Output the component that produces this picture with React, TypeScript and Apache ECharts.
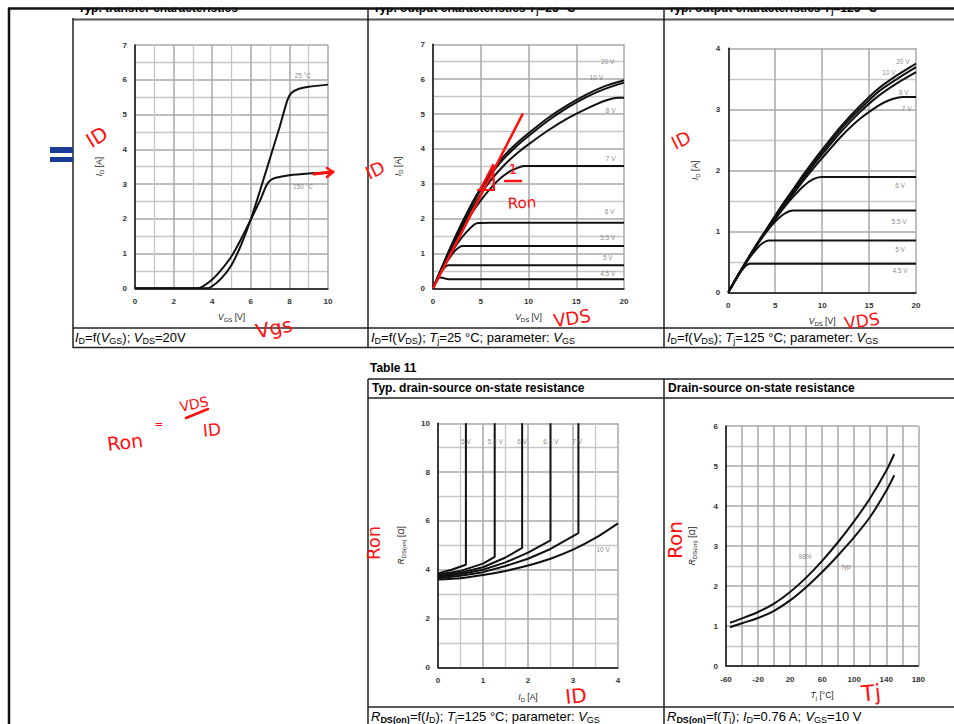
import React, { useEffect, useRef } from 'react';
import * as echarts from 'echarts';

const FONT = '"Liberation Sans", Arial, Helvetica, sans-serif';
const RED = '#ff1010';

// ---------- Chart 1: transfer characteristics ----------
const tfVgs150 = [0, 3.2, 3.5, 4, 4.5, 5, 5.5, 6, 6.5, 6.8, 7, 7.3, 8, 9, 10];
const tfId150 = [0, 0, 0.05, 0.25, 0.55, 0.92, 1.42, 1.98, 2.55, 2.95, 3.1, 3.18, 3.25, 3.3, 3.33];
const tfVgs25 = [0, 3.7, 4, 4.5, 5, 5.5, 6, 6.5, 7, 7.5, 7.9, 8.1, 8.5, 9, 10];
const tfId25 = [0, 0, 0.06, 0.3, 0.67, 1.25, 1.98, 2.85, 3.75, 4.65, 5.42, 5.62, 5.74, 5.8, 5.86];
const tfLabelText = ['25 °C', '150 °C'];
const tfLabelX = [8.7, 8.7];
const tfLabelY = [6.13, 2.94];

// ---------- Chart 2: output characteristics Tj = 25 °C ----------
const o25Vds = [0, 1, 2, 3, 4, 5, 6, 7, 8, 9, 10, 12, 14, 16, 18, 20];
const o25Id20 = [0, 0.65, 1.28, 1.86, 2.4, 2.88, 3.3, 3.66, 3.96, 4.22, 4.45, 4.88, 5.24, 5.55, 5.8, 5.97];
const o25Id10 = [0, 0.64, 1.26, 1.83, 2.36, 2.83, 3.24, 3.59, 3.88, 4.14, 4.37, 4.8, 5.17, 5.48, 5.72, 5.9];
const o25Vds8 = [0, 1, 2, 3, 4, 5, 6, 7, 8, 9, 10, 12, 14, 16, 18, 19.4, 20];
const o25Id8 = [0, 0.62, 1.22, 1.76, 2.26, 2.7, 3.08, 3.4, 3.68, 3.92, 4.13, 4.52, 4.86, 5.14, 5.38, 5.47, 5.47];
const o25Vds7 = [0, 1, 2, 3, 4, 5, 6, 7, 8, 9, 9.6, 11, 20];
const o25Id7 = [0, 0.6, 1.17, 1.68, 2.13, 2.52, 2.86, 3.14, 3.35, 3.47, 3.51, 3.51, 3.51];
const o25Vds6 = [0, 1, 2, 3, 4, 4.7, 6, 20];
const o25Id6 = [0, 0.56, 1.05, 1.45, 1.75, 1.87, 1.88, 1.88];
const o25Vds55 = [0, 1, 2, 2.6, 3.1, 4.5, 20];
const o25Id55 = [0, 0.55, 0.98, 1.15, 1.21, 1.21, 1.21];
const o25Vds5 = [0, 0.5, 1, 1.3, 1.6, 2.6, 20];
const o25Id5 = [0, 0.3, 0.52, 0.62, 0.66, 0.66, 0.66];
const o25Vds45 = [0, 0.4, 0.7, 1.0, 1.6, 2.6, 20];
const o25Id45 = [0, 0.22, 0.31, 0.3, 0.26, 0.26, 0.26];
const o25LabelText = ['20 V', '10 V', '8 V', '7 V', '6 V', '5.5 V', '5 V', '4.5 V'];
const o25LabelX = [18.3, 17.1, 18.6, 18.6, 18.5, 18.3, 18.3, 18.3];
const o25LabelY = [6.51, 6.05, 5.11, 3.73, 2.19, 1.47, 0.87, 0.42];
// hand-drawn tangent on chart 2
const tangentVds = [0, 9.42];
const tangentId = [0, 5.02];

// ---------- Chart 3: output characteristics Tj = 125 °C ----------
const o125Vds = [0, 1, 2, 3, 4, 5, 6, 7, 8, 9, 10, 12, 14, 16, 18, 20];
const o125Id20 = [0, 0.27, 0.53, 0.78, 1.02, 1.26, 1.49, 1.71, 1.93, 2.14, 2.34, 2.72, 3.05, 3.34, 3.56, 3.75];
const o125Id10 = [0, 0.27, 0.53, 0.78, 1.01, 1.24, 1.47, 1.69, 1.9, 2.1, 2.3, 2.68, 3.0, 3.29, 3.5, 3.69];
const o125Id8 = [0, 0.27, 0.52, 0.77, 1.0, 1.23, 1.45, 1.66, 1.87, 2.07, 2.26, 2.63, 2.95, 3.22, 3.43, 3.61];
const o125Vds7 = [0, 1, 2, 3, 4, 5, 6, 7, 8, 9, 10, 12, 14, 16, 17, 18, 18.7, 20];
const o125Id7 = [0, 0.27, 0.52, 0.77, 1.0, 1.22, 1.43, 1.63, 1.83, 2.02, 2.2, 2.55, 2.84, 3.06, 3.14, 3.19, 3.2, 3.2];
const o125Vds6 = [0, 1, 2, 3, 4, 5, 6, 7, 8, 9, 9.9, 11.5, 20];
const o125Id6 = [0, 0.27, 0.52, 0.77, 0.99, 1.2, 1.4, 1.58, 1.74, 1.85, 1.89, 1.89, 1.89];
const o125Vds55 = [0, 1, 2, 3, 4, 5, 6, 6.9, 8.5, 20];
const o125Id55 = [0, 0.27, 0.52, 0.76, 0.98, 1.16, 1.29, 1.34, 1.34, 1.34];
const o125Vds5 = [0, 1, 2, 3, 3.6, 4.3, 5.5, 20];
const o125Id5 = [0, 0.26, 0.51, 0.71, 0.8, 0.85, 0.85, 0.85];
const o125Vds45 = [0, 1, 1.5, 1.9, 2.3, 3.5, 20];
const o125Id45 = [0, 0.26, 0.37, 0.44, 0.47, 0.47, 0.47];
const o125LabelText = ['20 V', '10 V', '8 V', '7 V', '6 V', '5.5 V', '5 V', '4.5 V'];
const o125LabelX = [18.6, 17.1, 18.7, 19.0, 18.3, 18.2, 18.3, 18.3];
const o125LabelY = [3.79, 3.61, 3.28, 3.02, 1.75, 1.16, 0.7, 0.36];

// ---------- Chart 4: Rds(on) vs ID ----------
const rdId5 = [0, 0.3, 0.62, 0.62];
const rdR5 = [3.85, 4.0, 4.2, 10];
const rdId55 = [0, 0.5, 1.0, 1.26, 1.26];
const rdR55 = [3.8, 3.95, 4.25, 4.53, 10];
const rdId6 = [0, 0.5, 1, 1.5, 1.87, 1.87];
const rdR6 = [3.75, 3.88, 4.1, 4.5, 4.89, 10];
const rdId65 = [0, 0.5, 1, 1.5, 2, 2.5, 2.5];
const rdR65 = [3.7, 3.82, 4.0, 4.3, 4.7, 5.2, 10];
const rdId7 = [0, 0.5, 1, 1.5, 2, 2.5, 3.12, 3.12];
const rdR7 = [3.65, 3.75, 3.9, 4.15, 4.45, 4.85, 5.5, 10];
const rdId10 = [0, 0.5, 1, 1.5, 2, 2.5, 3, 3.5, 4];
const rdR10 = [3.6, 3.65, 3.78, 3.95, 4.17, 4.45, 4.82, 5.3, 5.9];
const rdLabelText = ['5 V', '5.5 V', '6 V', '6.5 V', '7 V', '10 V'];
const rdLabelX = [0.62, 1.27, 1.87, 2.51, 3.09, 3.67];
const rdLabelY = [9.26, 9.26, 9.26, 9.26, 9.26, 4.84];

// ---------- Chart 5: Rds(on) vs Tj ----------
const tjC = [-55, -40, -20, 0, 20, 40, 60, 80, 100, 120, 140, 150];
const r98 = [1.08, 1.19, 1.35, 1.56, 1.85, 2.21, 2.63, 3.1, 3.62, 4.2, 4.88, 5.3];
const rTyp = [0.97, 1.07, 1.2, 1.38, 1.64, 1.97, 2.35, 2.77, 3.22, 3.73, 4.38, 4.77];
const tjLabelText = ['98%', 'typ'];
const tjLabelX = [38.75, 90];
const tjLabelY = [2.75, 2.5];

// ---------- helpers ----------
const zip = (xs: number[], ys: number[]) => xs.map((x, i) => [x, ys[i]]);

const nameRich = {
  i: { fontFamily: FONT, fontStyle: 'italic', fontSize: 8.5, color: '#222', lineHeight: 12, verticalAlign: 'middle' },
  s: { fontFamily: FONT, fontSize: 6, color: '#222', lineHeight: 7, verticalAlign: 'bottom' },
  n: { fontFamily: FONT, fontSize: 8.5, color: '#222', lineHeight: 12, verticalAlign: 'middle' },
};

function mkAxis(gridIndex: number, min: number, max: number, interval: number, minor: number, name: string, nameGap: number, formatter?: any) {
  const a: any = {
    type: 'value', gridIndex, min, max, interval,
    axisLine: { show: true, onZero: false, lineStyle: { color: '#111', width: 1.5 } },
    axisTick: { show: false },
    axisLabel: { fontFamily: FONT, fontSize: 8, fontWeight: 'bold', color: '#333', margin: 8 },
    splitLine: { show: true, lineStyle: { color: '#a8a8a8', width: 1.5 } },
    minorTick: { show: false, splitNumber: minor || 1 },
    minorSplitLine: { show: !!minor, lineStyle: { color: '#c6c6c6', width: 1.3 } },
    name, nameLocation: 'middle', nameGap, nameTextStyle: { rich: nameRich },
  };
  if (formatter) a.axisLabel.formatter = formatter;
  return a;
}

function curve(idx: number, xs: number[], ys: number[], smooth: any = 0.25) {
  return {
    type: 'line', xAxisIndex: idx, yAxisIndex: idx, data: zip(xs, ys), symbol: 'none', silent: true,
    smooth, lineStyle: { color: '#111', width: 2 }, z: 3,
  };
}

function labels(idx: number, texts: string[], xs: number[], ys: number[]) {
  return {
    type: 'scatter', xAxisIndex: idx, yAxisIndex: idx, symbolSize: 1, silent: true, z: 4,
    itemStyle: { color: 'rgba(0,0,0,0)' },
    data: texts.map((t, i) => ({ name: t, value: [xs[i], ys[i]] })),
    label: { show: true, position: 'inside', formatter: '{b}', fontFamily: FONT, fontSize: 6.5, color: '#6a6a6a' },
  };
}

const capRich = {
  n: { fontFamily: FONT, fontSize: 13, color: '#111', lineHeight: 16, verticalAlign: 'middle' },
  i: { fontFamily: FONT, fontSize: 13, fontStyle: 'italic', color: '#111', lineHeight: 16, verticalAlign: 'middle' },
  s: { fontFamily: FONT, fontSize: 9, color: '#111', lineHeight: 9, verticalAlign: 'bottom' },
  sb: { fontFamily: FONT, fontSize: 9, fontWeight: 'bold', color: '#111', lineHeight: 9, verticalAlign: 'bottom' },
};
const titleRich = {
  b: { fontFamily: FONT, fontSize: 12, fontWeight: 'bold', color: '#111', lineHeight: 15, verticalAlign: 'middle' },
  bi: { fontFamily: FONT, fontSize: 12, fontWeight: 'bold', fontStyle: 'italic', color: '#111', lineHeight: 15, verticalAlign: 'middle' },
  bs: { fontFamily: FONT, fontSize: 8, fontWeight: 'bold', color: '#111', lineHeight: 8, verticalAlign: 'bottom' },
};

const txt = (x: number, y: number, text: string, rich: any) => ({
  type: 'text', x, y, z: 50, silent: true,
  style: { text, rich, verticalAlign: 'middle', align: 'left' },
});
const hl = (x1: number, x2: number, y: number, w = 1.5, c = '#222') => ({
  type: 'line', z: 60, silent: true, shape: { x1, y1: y, x2, y2: y }, style: { stroke: c, lineWidth: w },
});
const vl = (x: number, y1: number, y2: number, w = 1.5, c = '#222') => ({
  type: 'line', z: 60, silent: true, shape: { x1: x, y1, x2: x, y2 }, style: { stroke: c, lineWidth: w },
});
const hand = (x: number, y: number, text: string, size: number, rot = 0) => ({
  type: 'text', x, y, rotation: rot, z: 90, silent: true,
  style: { text, fill: RED, fontFamily: '"DejaVu Sans", sans-serif', fontSize: size, align: 'center', verticalAlign: 'middle' },
});
const stroke = (pts: number[][], w = 2.5) => ({
  type: 'polyline', z: 90, silent: true, shape: { points: pts }, style: { stroke: RED, lineWidth: w, fill: null, lineCap: 'round', lineJoin: 'round' },
});

function buildOption() {
  const grid = [
    { left: 135, top: 45, width: 193, height: 243.3 },
    { left: 433, top: 44.3, width: 191, height: 244 },
    { left: 728.3, top: 48.3, width: 187.7, height: 244 },
    { left: 438, top: 423.3, width: 180, height: 244 },
    { left: 726, top: 426, width: 192.3, height: 240 },
  ];
  const xAxis = [
    mkAxis(0, 0, 10, 2, 2, '{i|V}{s|GS}{n| [V]}', 23),
    mkAxis(1, 0, 20, 5, 0, '{i|V}{s|DS}{n| [V]}', 23),
    mkAxis(2, 0, 20, 5, 0, '{i|V}{s|DS}{n| [V]}', 23),
    mkAxis(3, 0, 4, 1, 2, '{i|I}{s|D}{n| [A]}', 24),
    mkAxis(4, -60, 180, 20, 0, '{i|T}{s|j}{n| [°C]}', 23, (v: number) => ((v + 60) % 40 === 0 ? String(v) : '')),
  ];
  xAxis.forEach((a) => (a.axisLabel.margin = 9));
  const yAxis = [
    mkAxis(0, 0, 7, 1, 2, '{i|I}{s|D}{n| [A]}', 30),
    mkAxis(1, 0, 7, 1, 2, '{i|I}{s|D}{n| [A]}', 29),
    mkAxis(2, 0, 4, 1, 2, '{i|I}{s|D}{n| [A]}', 27),
    mkAxis(3, 0, 10, 2, 2, '{i|R}{s|DS(on)}{n| [Ω]}', 31),
    mkAxis(4, 0, 6, 1, 2, '{i|R}{s|DS(on)}{n| [Ω]}', 28),
  ];

  const series: any[] = [
    curve(0, tfVgs150, tfId150),
    curve(0, tfVgs25, tfId25),
    labels(0, tfLabelText, tfLabelX, tfLabelY),

    curve(1, o25Vds, o25Id20),
    curve(1, o25Vds, o25Id10),
    curve(1, o25Vds8, o25Id8),
    curve(1, o25Vds7, o25Id7),
    curve(1, o25Vds6, o25Id6),
    curve(1, o25Vds55, o25Id55),
    curve(1, o25Vds5, o25Id5),
    curve(1, o25Vds45, o25Id45),
    labels(1, o25LabelText, o25LabelX, o25LabelY),
    { type: 'line', xAxisIndex: 1, yAxisIndex: 1, data: zip(tangentVds, tangentId), symbol: 'none', silent: true, z: 6, lineStyle: { color: RED, width: 2.5 } },

    curve(2, o125Vds, o125Id20),
    curve(2, o125Vds, o125Id10),
    curve(2, o125Vds, o125Id8),
    curve(2, o125Vds7, o125Id7),
    curve(2, o125Vds6, o125Id6),
    curve(2, o125Vds55, o125Id55),
    curve(2, o125Vds5, o125Id5),
    curve(2, o125Vds45, o125Id45),
    labels(2, o125LabelText, o125LabelX, o125LabelY),

    curve(3, rdId5, rdR5, false),
    curve(3, rdId55, rdR55, false),
    curve(3, rdId6, rdR6, false),
    curve(3, rdId65, rdR65, false),
    curve(3, rdId7, rdR7, false),
    curve(3, rdId10, rdR10),
    labels(3, rdLabelText, rdLabelX, rdLabelY),

    curve(4, tjC, r98),
    curve(4, tjC, rTyp),
    labels(4, tjLabelText, tjLabelX, tjLabelY),
  ];

  const graphic: any[] = [
    // titles (top row clipped by screenshot edge)
    txt(78, 7.5, '{b|Typ. transfer characteristics}', titleRich),
    txt(373, 7.5, '{b|Typ. output characteristics }{bi|T}{bs|j}{b|=25 °C}', titleRich),
    txt(668, 7.5, '{b|Typ. output characteristics }{bi|T}{bs|j}{b|=125 °C}', titleRich),
    { type: 'rect', z: 55, silent: true, shape: { x: 0, y: 0, width: 954, height: 7.5 }, style: { fill: '#fff' } },
    // captions
    txt(75, 337, '{i|I}{s|D}{n|=f(}{i|V}{s|GS}{n|); }{i|V}{s|DS}{n|=20V}', capRich),
    txt(371, 337, '{i|I}{s|D}{n|=f(}{i|V}{s|DS}{n|); }{i|T}{s|j}{n|=25 °C; parameter: }{i|V}{s|GS}', capRich),
    txt(667, 337, '{i|I}{s|D}{n|=f(}{i|V}{s|DS}{n|); }{i|T}{s|j}{n|=125 °C; parameter: }{i|V}{s|GS}', capRich),
    txt(371, 716, '{i|R}{sb|DS(on)}{n|=f(}{i|I}{s|D}{n|); }{i|T}{s|j}{n|=125 °C; parameter: }{i|V}{s|GS}', capRich),
    txt(667, 716, '{i|R}{sb|DS(on)}{n|=f(}{i|T}{s|j}{n|); }{i|I}{s|D}{n|=0.76 A; }{i|V}{s|GS}{n|=10 V}', capRich),
    // lower titles
    txt(370, 368, '{b|Table 11}', titleRich),
    txt(372, 388, '{b|Typ. drain-source on-state resistance}', titleRich),
    txt(668, 388, '{b|Drain-source on-state resistance}', titleRich),
    // table lines upper
    hl(8, 954, 8.5, 2.5, '#111'),
    vl(9, 8, 724, 2.5, '#111'),
    hl(73, 954, 19.5, 1.8, '#555'),
    vl(73, 18, 348),
    vl(368, 8, 348),
    vl(664, 8, 348),
    hl(73, 954, 328),
    hl(73, 954, 347.5),
    // table lines lower
    hl(368, 954, 379),
    hl(368, 954, 398),
    vl(368, 379, 724),
    vl(664, 379, 724),
    hl(368, 954, 707),
    // blue equals sign
    { type: 'rect', z: 60, silent: true, shape: { x: 50, y: 147, width: 23, height: 6 }, style: { fill: '#1a3c96' } },
    { type: 'rect', z: 60, silent: true, shape: { x: 50, y: 157, width: 23, height: 5 }, style: { fill: '#1a3c96' } },
    // red handwriting
    hand(97, 137, 'ID', 20, 0.55),
    hand(274, 328, 'Vgs', 20, 0.2),
    stroke([[314, 174], [333, 172]], 3),
    stroke([[327, 168], [333, 172], [327, 177]], 2.5),
    hand(375, 170, 'ID', 18, 0.45),
    stroke([[480, 190], [493, 165], [494, 190], [478, 190]], 2.2),
    hand(513, 169, '1', 14, 0),
    stroke([[505, 181], [521, 181]], 2.5),
    hand(522, 203, 'Ron', 15, 0.05),
    hand(572, 318, 'VDS', 18, 0.15),
    hand(681, 140, 'ID', 18, 0.45),
    hand(862, 321, 'VDS', 17, 0.15),
    hand(125, 442, 'Ron', 19, 0.12),
    hand(159, 424, '=', 10, 0),
    hand(194, 404, 'VDS', 14, 0.2),
    stroke([[186, 418], [208, 409]], 2.5),
    hand(212, 430, 'ID', 17, 0.1),
    hand(373, 543, 'Ron', 18, Math.PI / 2),
    hand(576, 696, 'ID', 20, 0.1),
    hand(675, 540, 'Ron', 20, Math.PI / 2),
    hand(871, 693, 'Tj', 22, 0.1),
  ];

  return { animation: false, backgroundColor: '#fff', grid, xAxis, yAxis, series, graphic };
}

export default function App() {
  const ref = useRef<HTMLDivElement>(null);
  useEffect(() => {
    const chart = echarts.init(ref.current as HTMLDivElement, null, { renderer: 'svg', width: 954, height: 724 });
    chart.setOption(buildOption() as any);
    return () => chart.dispose();
  }, []);
  return <div ref={ref} style={{ position: 'fixed', left: 0, top: 0, width: 954, height: 724, background: '#fff' }} />;
}
